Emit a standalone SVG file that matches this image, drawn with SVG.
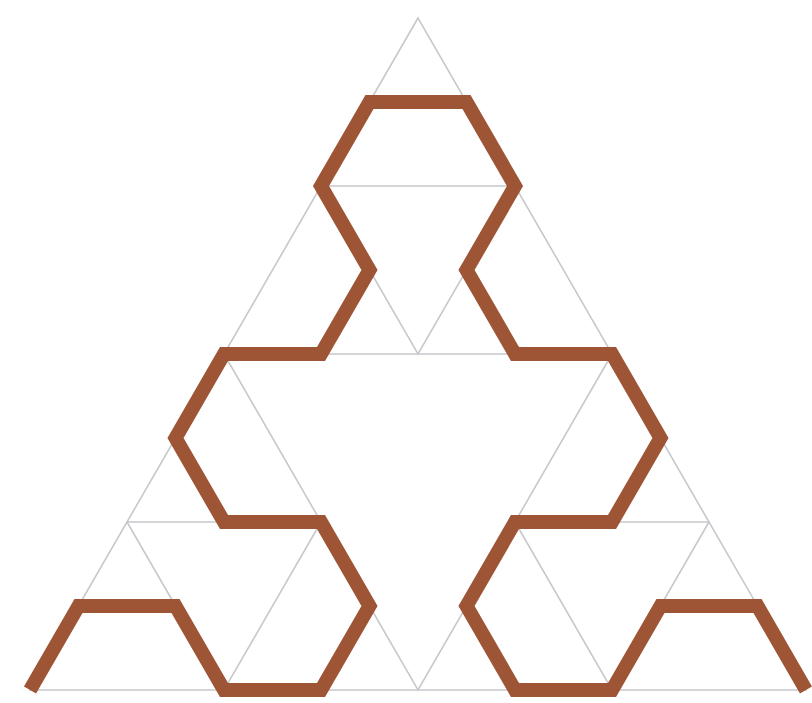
<svg xmlns="http://www.w3.org/2000/svg" width="812" height="703" viewBox="0 0 812 703">
<style>
.grid{fill:none;stroke:#c6c8cc;stroke-width:1.6}
.curve{fill:none;stroke:#9e5535;stroke-width:14;stroke-linejoin:miter;stroke-linecap:butt}
</style>
<rect width="812" height="703" fill="#ffffff"/>
<g id="grid" class="grid">
<polygon points="418,18 30,690 806,690"/>
<polygon points="224,354 612,354 418,690"/>
<polygon points="321,186 515,186 418,354"/>
<polygon points="127,522 321,522 224,690"/>
<polygon points="515,522 709,522 612,690"/>
</g>
<g id="arrowhead-curve">
<polyline class="curve" points="30,690 78.5,606 175.5,606 224,690 321,690 369.5,606 321,522 224,522 175.5,438 224,354 321,354 369.5,270 321,186 369.5,102 466.5,102 515,186 466.5,270 515,354 612,354 660.5,438 612,522 515,522 466.5,606 515,690 612,690 660.5,606 757.5,606 806,690"/>
</g>
</svg>
